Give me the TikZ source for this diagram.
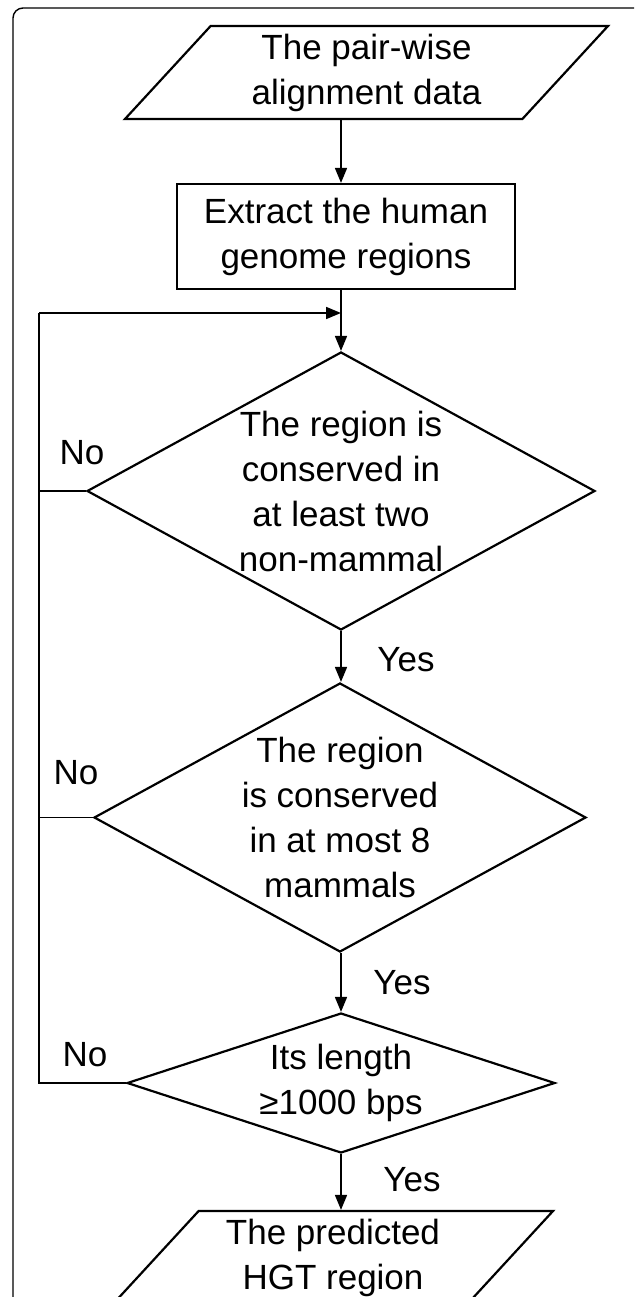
\documentclass[tikz,border=0pt]{standalone}
\usepackage{fontspec}
\setmainfont{Liberation Sans}
\usetikzlibrary{positioning, arrows.meta, shapes.geometric, calc}

\tikzset{
    txt/.style={align=center, font=\fontsize{35}{45}\selectfont},
    io/.style={draw, line width=2.2pt, trapezium, trapezium left angle=45,
        trapezium right angle=135, trapezium stretches body, inner sep=4pt,
        txt},
    proc/.style={draw, line width=2.2pt, rectangle, inner sep=0pt, txt},
    decision/.style={draw, line width=2.2pt, diamond, inner sep=0pt},
    link/.style={line width=1.7pt},
    arr/.style={link, -{Triangle[length=15pt, width=12pt]}}
}

\begin{document}
\begin{tikzpicture}[x=1pt, y=-1pt]

    \clip (0,0) rectangle (634,1297);

    % Outer frame
    \draw[line width=1.4pt, rounded corners=10pt] (13,8) rectangle (660,1330);

    % Input data
    \node[io, minimum width=483pt, minimum height=93pt] (pairs) at (366.5,72.5)
        {The pair-wise\\alignment data};

    % Extraction step
    \node[proc, minimum width=338pt, minimum height=105pt] (extract) at (346,236.5)
        {Extract the human\\genome regions};

    % Decisions
    \node[decision, minimum width=508pt, minimum height=278pt] (nonmam) at (341,491) {};
    \node[txt] (nonmamtxt) at (nonmam) {The region is\\conserved in\\at least two\\non-mammal};

    \node[decision, minimum width=492pt, minimum height=269pt] (mam) at (340,817.5) {};
    \node[txt] (mamtxt) at (mam) {The region\\is conserved\\in at most 8\\mammals};

    \node[decision, minimum width=428pt, minimum height=140pt] (len) at (341,1083) {};
    \node[txt] (lentxt) at (len) {Its length\\≥1000 bps};

    % Output
    \node[io, minimum width=440pt, minimum height=93pt] (hgt) at (333,1257.5)
        {The predicted\\HGT region};

    % Main flow
    \draw[arr] (pairs.south -| nonmam.north) -- (extract.north -| nonmam.north);
    \draw[arr] (extract.south -| nonmam.north) -- (nonmam.north);
    \draw[arr] (nonmam.south) -- (mam.north -| nonmam.south);
    \draw[arr] (mam.south -| len.north) -- (len.north);
    \draw[arr] (len.south) -- (hgt.north -| len.south);

    % Loop back
    \coordinate (back) at (39,313);
    \draw[link] (len.west) -| (back);
    \draw[arr] (back) -- (back -| nonmam.north);
    \draw[link] (nonmam.west) -- (nonmam.west -| back);
    \draw[link] (mam.west) -- (mam.west -| back);

    % Labels
    \node[txt] (no1) at (82,453) {No};
    \node[txt] (no2) at (76,773) {No};
    \node[txt] (no3) at (85,1055) {No};
    \node[txt] (yes1) at (406,660) {Yes};
    \node[txt] (yes2) at (402,983) {Yes};
    \node[txt] (yes3) at (412,1180) {Yes};

\end{tikzpicture}
\end{document}
